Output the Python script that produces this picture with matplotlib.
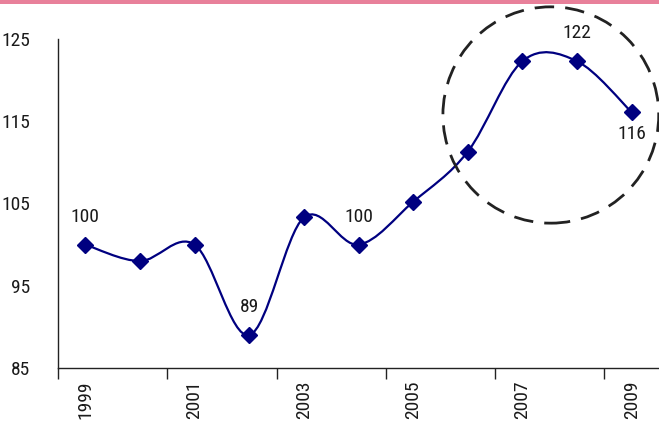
import matplotlib
matplotlib.use("Agg")
import matplotlib.pyplot as plt
from matplotlib.path import Path
from matplotlib.patches import PathPatch, Ellipse, Rectangle
import numpy as np

plt.rcParams['font.family'] = ['Roboto Condensed', 'DejaVu Sans']

years = ['1999', '2000', '2001', '2002', '2003', '2004', '2005', '2006', '2007', '2008', '2009']
values = [100, 98, 100, 89, 103.3, 100, 105.2, 111.3, 122.3, 122.3, 116.1]
labels = {0: '100', 3: '89', 5: '100', 9: '122', 10: '116'}
yticks = [85, 95, 105, 115, 125]

fig = plt.figure(figsize=(6.59, 4.21), dpi=100)
ax = fig.add_axes([58/659, 1 - 368/421, 1 - 58/659, (368 - 39)/421])

x = np.arange(len(values), dtype=float)
y = np.array(values, dtype=float)

# smoothed line (Catmull-Rom style Bezier, like Excel's smoothed line)
verts = [(x[0], y[0])]
codes = [Path.MOVETO]
n = len(x)
for i in range(n - 1):
    p0 = np.array([x[max(i - 1, 0)], y[max(i - 1, 0)]])
    p1 = np.array([x[i], y[i]])
    p2 = np.array([x[i + 1], y[i + 1]])
    p3 = np.array([x[min(i + 2, n - 1)], y[min(i + 2, n - 1)]])
    c1 = p1 + (p2 - p0) / 6.0
    c2 = p2 - (p3 - p1) / 6.0
    verts += [tuple(c1), tuple(c2), tuple(p2)]
    codes += [Path.CURVE4] * 3
ax.add_patch(PathPatch(Path(verts, codes), facecolor='none', edgecolor='#000080', lw=1.6, zorder=2))
ax.plot(x, y, linestyle='none', marker='D', markersize=8, color='#000080', zorder=3)

for i, t in labels.items():
    off = -22 if i == 10 else 28
    ax.annotate(t, (x[i], y[i]), xytext=(0, off), textcoords='offset pixels',
                ha='center', va='center', fontsize=14, color='#1a1a1a')

ax.add_patch(Ellipse((8.52, 115.76), 3.95, 26.3, fill=False, edgecolor='#222222',
                     lw=2, linestyle=(0, (7, 4)), clip_on=False, zorder=4))

ax.set_xlim(-0.5, 10.5)
ax.set_ylim(85, 125)
ax.set_yticks(yticks)
ax.set_yticklabels([str(v) for v in yticks])
ax.tick_params(axis='y', length=0, pad=20, labelsize=14, labelcolor='#1a1a1a')

ax.set_xticks(np.arange(-0.5, 10.6, 2.0))
ax.set_xticklabels([])
ax.set_xticks(x[::2], minor=True)
ax.set_xticklabels(years[::2], minor=True, rotation=90)
ax.tick_params(axis='x', which='major', length=8, width=1, color='#222222', direction='out')
ax.tick_params(axis='x', which='minor', length=0, pad=9, labelsize=14, labelcolor='#1a1a1a')

for s in ['top', 'right']:
    ax.spines[s].set_visible(False)
for s in ['left', 'bottom']:
    ax.spines[s].set_color('#222222')
    ax.spines[s].set_linewidth(1)

fig.patches.append(Rectangle((0, 1 - 4/421), 1, 4/421, transform=fig.transFigure,
                             facecolor='#E8809A', edgecolor='none'))

fig.savefig('out.png', dpi=100)
